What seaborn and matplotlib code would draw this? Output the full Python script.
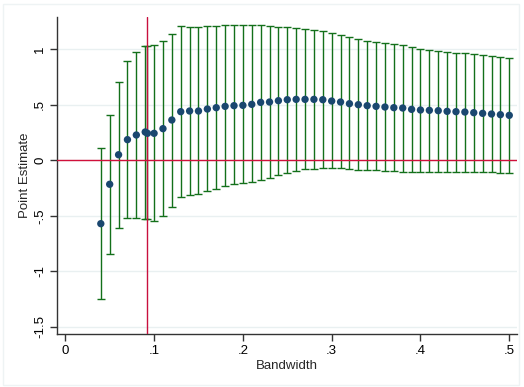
import numpy as np
import pandas as pd
import matplotlib
matplotlib.use("Agg")
import matplotlib.pyplot as plt
import seaborn as sns

# ---- data ----
bandwidth = [0.04, 0.05, 0.06, 0.07, 0.08, 0.09, 0.0925, 0.10, 0.11, 0.12,
             0.13, 0.14, 0.15, 0.16, 0.17, 0.18, 0.19, 0.20, 0.21, 0.22,
             0.23, 0.24, 0.25, 0.26, 0.27, 0.28, 0.29, 0.30, 0.31, 0.32,
             0.33, 0.34, 0.35, 0.36, 0.37, 0.38, 0.39, 0.40, 0.41, 0.42,
             0.43, 0.44, 0.45, 0.46, 0.47, 0.48, 0.49, 0.50]
estimate = [-0.571, -0.216, 0.050, 0.186, 0.228, 0.255, 0.243, 0.243, 0.285, 0.363,
            0.438, 0.444, 0.444, 0.462, 0.474, 0.486, 0.492, 0.495, 0.504, 0.522,
            0.525, 0.537, 0.546, 0.549, 0.549, 0.549, 0.546, 0.534, 0.525, 0.510,
            0.501, 0.492, 0.486, 0.480, 0.474, 0.471, 0.459, 0.453, 0.450, 0.447,
            0.441, 0.438, 0.435, 0.429, 0.423, 0.417, 0.411, 0.405]
ci_upper = [0.111, 0.411, 0.708, 0.897, 0.976, 1.033, 1.030, 1.036, 1.072, 1.141,
            1.207, 1.204, 1.198, 1.213, 1.210, 1.216, 1.216, 1.216, 1.216, 1.219,
            1.210, 1.201, 1.198, 1.189, 1.180, 1.171, 1.162, 1.144, 1.132, 1.110,
            1.090, 1.078, 1.066, 1.054, 1.048, 1.042, 1.018, 1.003, 0.991, 0.982,
            0.976, 0.970, 0.964, 0.958, 0.949, 0.940, 0.934, 0.925]
ci_lower = [-1.250, -0.841, -0.607, -0.523, -0.517, -0.526, -0.532, -0.544, -0.505, -0.418,
            -0.331, -0.316, -0.307, -0.280, -0.255, -0.232, -0.216, -0.207, -0.198, -0.177,
            -0.157, -0.130, -0.111, -0.093, -0.081, -0.078, -0.072, -0.072, -0.072, -0.078,
            -0.084, -0.087, -0.090, -0.093, -0.099, -0.102, -0.105, -0.108, -0.108, -0.105,
            -0.105, -0.105, -0.105, -0.105, -0.105, -0.108, -0.111, -0.114]
chosen_bandwidth = 0.0925
x_ticks = [0, 0.1, 0.2, 0.3, 0.4, 0.5]
x_tick_labels = ["0", ".1", ".2", ".3", ".4", ".5"]
y_ticks = [-1.5, -1, -0.5, 0, 0.5, 1]
y_tick_labels = ["-1.5", "-1", "-.5", "0", ".5", "1"]

df = pd.DataFrame({"Bandwidth": bandwidth, "Estimate": estimate,
                   "lo": ci_lower, "hi": ci_upper})

sns.set_style("white")
plt.rcParams["font.family"] = ["Liberation Sans", "DejaVu Sans"]

fig = plt.figure(figsize=(5.24, 3.87), dpi=100)
ax = fig.add_axes([57.3 / 524, 1 - 334 / 387, (517 - 57.3) / 524, (334 - 17) / 387])

# light outer frame (graph region)
fig.patches.append(plt.Rectangle((3 / 524, 2 / 387), 516 / 524, 381 / 387,
                                 transform=fig.transFigure, fill=False,
                                 edgecolor="#eef3f4", linewidth=1.0))

# grid lines
for yt in y_ticks:
    ax.axhline(yt, color="#e9f0f1", linewidth=1.0, zorder=0)

# confidence intervals
ax.errorbar(df["Bandwidth"], df["Estimate"],
            yerr=[df["Estimate"] - df["lo"], df["hi"] - df["Estimate"]],
            fmt="none", ecolor="#13701a", elinewidth=1.0, capsize=3.0,
            capthick=1.0, zorder=2)

# reference lines
ax.axhline(0, color="#d0103a", linewidth=1.0, zorder=3)
ax.axvline(chosen_bandwidth, color="#c8103e", linewidth=1.0, zorder=3)

# point estimates
sns.scatterplot(data=df, x="Bandwidth", y="Estimate", ax=ax, color="#1a476f",
                s=28, edgecolor="none", zorder=4)

ax.set_xlim(-0.009, 0.5087)
ax.set_ylim(-1.565, 1.291)
ax.set_xticks(x_ticks)
ax.set_xticklabels(x_tick_labels)
ax.set_yticks(y_ticks)
ax.set_yticklabels(y_tick_labels, rotation=90, va="center")
ax.tick_params(axis="both", which="major", length=5, width=1.0, color="#333333",
               labelsize=9.5, labelcolor="black", direction="out", pad=3,
               bottom=True, left=True)
ax.set_xlabel("Bandwidth", fontsize=9.5, labelpad=2)
ax.set_ylabel("Point Estimate", fontsize=9.5, labelpad=2)

for side in ["top", "right"]:
    ax.spines[side].set_visible(False)
for side in ["left", "bottom"]:
    ax.spines[side].set_color("#333333")
    ax.spines[side].set_linewidth(1.0)

fig.savefig("out.png", dpi=100)
